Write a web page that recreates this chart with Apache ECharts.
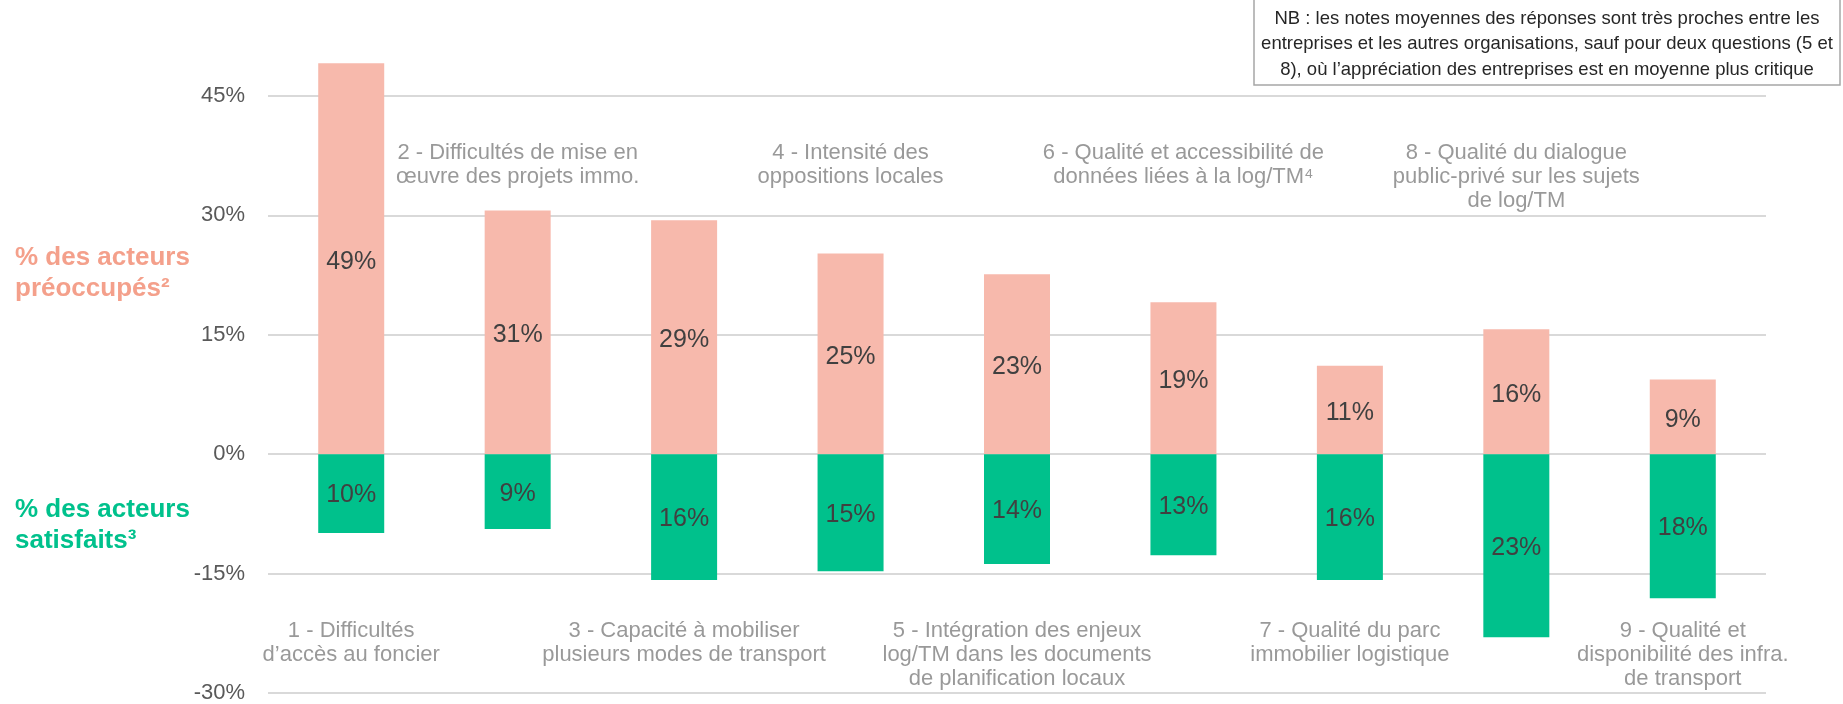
<!DOCTYPE html>
<html>
<head>
<meta charset="utf-8">
<script src="https://cdn.jsdelivr.net/npm/echarts@6/dist/echarts.min.js"></script>
<style>
html,body{margin:0;padding:0;background:#fff;}
#chart{width:1843px;height:704px;}
</style>
</head>
<body>
<div id="chart"></div>
<script>
// ---- data ----
const categories = [
  "1 - Difficultés\nd’accès au foncier",
  "2 - Difficultés de mise en\nœuvre des projets immo.",
  "3 - Capacité à mobiliser\nplusieurs modes de transport",
  "4 - Intensité des\noppositions locales",
  "5 - Intégration des enjeux\nlog/TM dans les documents\nde planification locaux",
  "6 - Qualité et accessibilité de\ndonnées liées à la log/TM⁴",
  "7 - Qualité du parc\nimmobilier logistique",
  "8 - Qualité du dialogue\npublic-privé sur les sujets\nde log/TM",
  "9 - Qualité et\ndisponibilité des infra.\nde transport"
];
const preoccupes = [49.1, 30.6, 29.4, 25.2, 22.6, 19.1, 11.1, 15.7, 9.4];
const satisfaits = [-9.9, -9.4, -15.8, -14.7, -13.8, -12.7, -15.8, -23.0, -18.1];
const yTicks = { min: -30, max: 45, interval: 15 };
const noteText = "NB : les notes moyennes des réponses sont très proches entre les\nentreprises et les autres organisations, sauf pour deux questions (5 et\n8), où l’appréciation des entreprises est en moyenne plus critique";

// ---- chart ----
const FONT = "'Liberation Sans', Arial, sans-serif";
const PINK = '#F7B9AC';
const GREEN = '#00C18C';
const TOP_LABEL_Y = 39.4;
const BOTTOM_LABEL_Y = -20.7;

const chart = echarts.init(document.getElementById('chart'), null, { renderer: 'canvas' });

const option = {
  animation: false,
  backgroundColor: '#ffffff',
  grid: { left: 268, right: 77, top: 96, bottom: 10, containLabel: false },
  xAxis: {
    type: 'category',
    data: categories,
    axisLine: { show: false },
    axisTick: { show: false },
    axisLabel: { show: false },
    splitLine: { show: false }
  },
  yAxis: {
    type: 'value',
    min: yTicks.min,
    max: yTicks.max,
    interval: yTicks.interval,
    axisLine: { show: false },
    axisTick: { show: false },
    axisLabel: {
      formatter: '{value}%',
      fontSize: 22,
      fontFamily: FONT,
      color: '#595959',
      margin: 23
    },
    splitLine: { lineStyle: { color: '#D9D9D9', width: 2 } }
  },
  series: [
    {
      name: 'préoccupés',
      type: 'bar',
      data: preoccupes,
      barWidth: 66,
      barGap: '-100%',
      clip: false,
      itemStyle: { color: PINK },
      label: {
        show: true,
        position: 'inside',
        fontSize: 25,
        fontFamily: FONT,
        color: '#404040',
        offset: [0, 3],
        formatter: p => Math.round(p.value) + '%'
      },
      z: 2
    },
    {
      name: 'satisfaits',
      type: 'bar',
      data: satisfaits,
      barWidth: 66,
      barGap: '-100%',
      clip: false,
      itemStyle: { color: GREEN },
      label: {
        show: true,
        position: 'inside',
        fontSize: 25,
        fontFamily: FONT,
        color: '#404040',
        offset: [0, 2],
        formatter: p => Math.round(-p.value) + '%'
      },
      z: 2
    },
    {
      name: 'labels',
      type: 'scatter',
      silent: true,
      symbolSize: 0,
      data: categories.map((c, i) => [i, i % 2 === 1 ? TOP_LABEL_Y : BOTTOM_LABEL_Y]),
      label: {
        show: true,
        position: 'bottom',
        distance: 0,
        fontSize: 22,
        lineHeight: 24,
        fontFamily: FONT,
        color: '#7F7F7F',
        align: 'center',
        formatter: p => categories[p.dataIndex]
      },
      z: 3
    }
  ],
  graphic: [
    {
      type: 'text',
      left: 15,
      top: 242,
      style: {
        text: '% des acteurs\npréoccupés²',
        font: 'bold 26px ' + FONT,
        fill: '#F4A08B',
        lineHeight: 31
      }
    },
    {
      type: 'text',
      left: 15,
      top: 494,
      style: {
        text: '% des acteurs\nsatisfaits³',
        font: 'bold 26px ' + FONT,
        fill: GREEN,
        lineHeight: 31
      }
    },
    {
      type: 'rect',
      shape: { x: 1254, y: -2, width: 586, height: 87 },
      style: { fill: '#ffffff', stroke: '#A6A6A6', lineWidth: 1.5 }
    },
    {
      type: 'text',
      x: 1547,
      y: 6,
      style: {
        text: noteText,
        font: '18.5px ' + FONT,
        fill: '#262626',
        align: 'center',
        verticalAlign: 'top',
        lineHeight: 25.5
      }
    }
  ]
};

chart.setOption(option);
</script>
</body>
</html>
